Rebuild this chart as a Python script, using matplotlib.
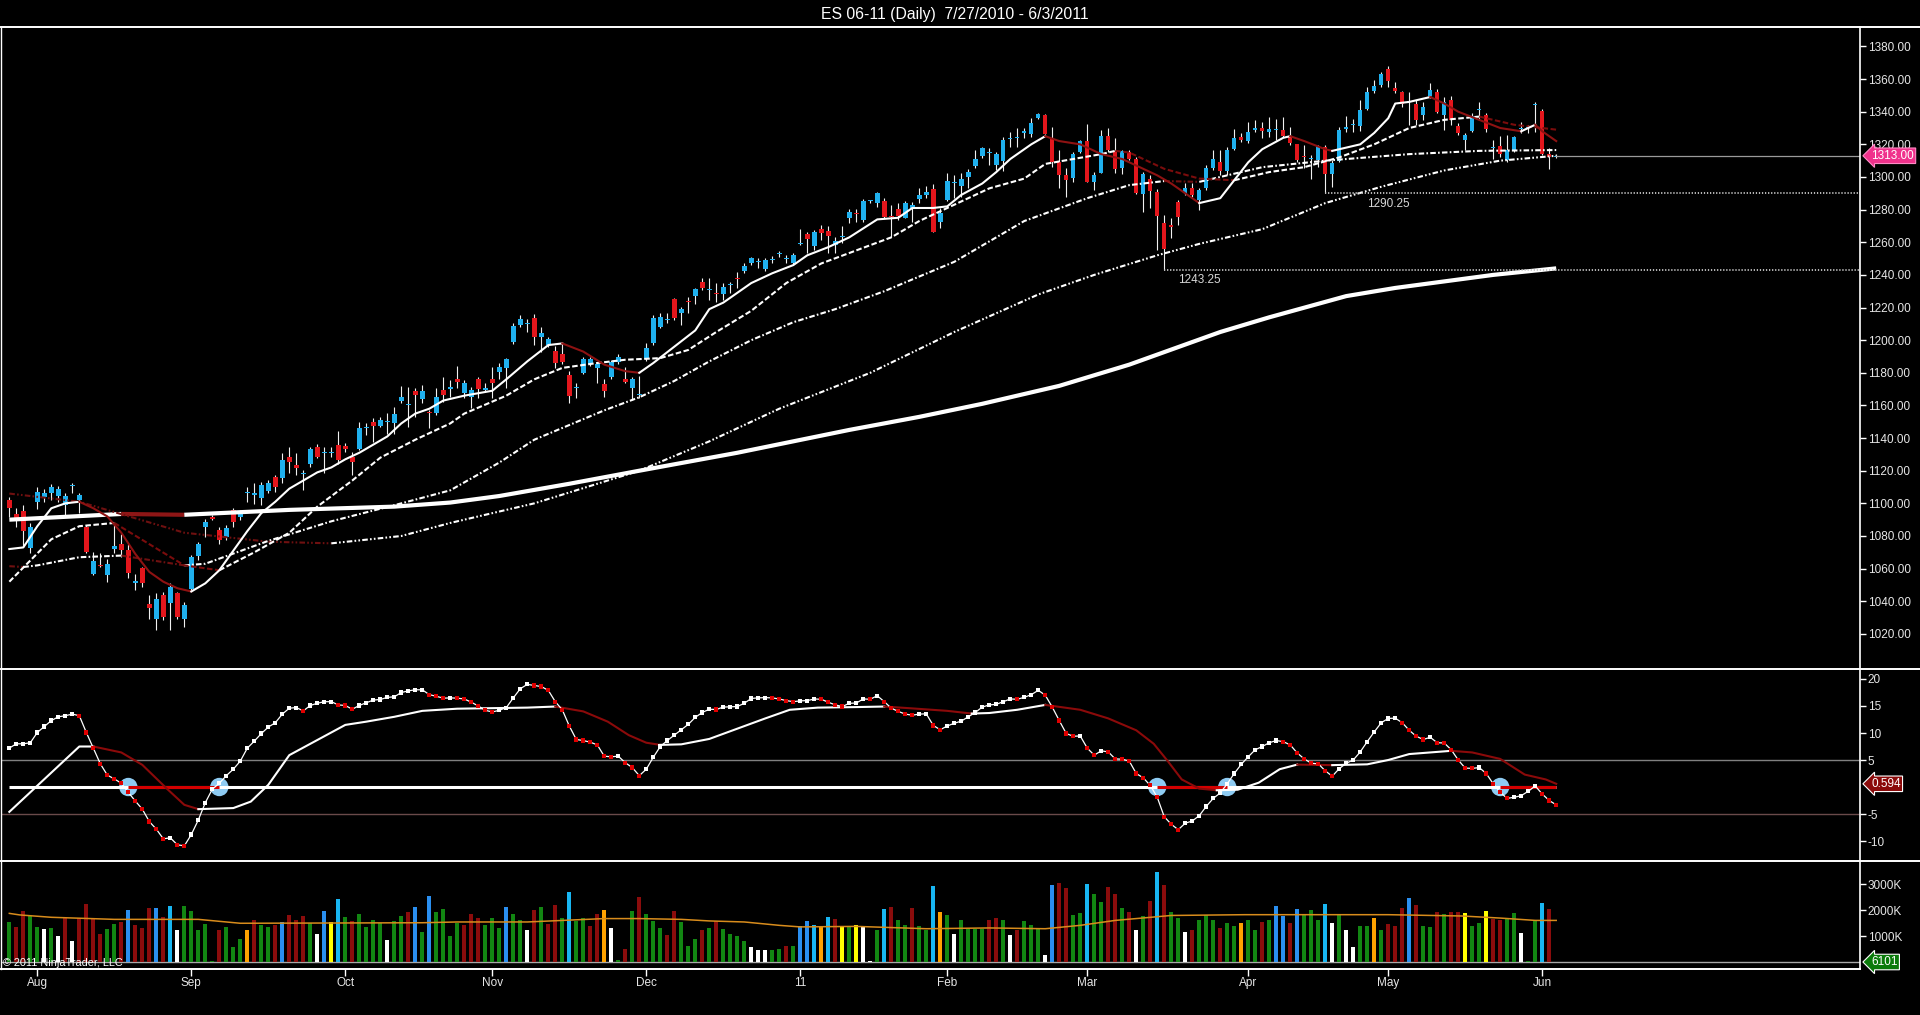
import matplotlib
matplotlib.use('Agg')
import matplotlib.pyplot as plt
import numpy as np
from matplotlib.lines import Line2D

plt.rcParams['font.family'] = ['Liberation Sans', 'DejaVu Sans']
plt.rcParams['lines.scale_dashes'] = False

# ---------------- DATA ----------------
title = "ES 06-11 (Daily)  7/27/2010 - 6/3/2011"
month_labels = ['Aug', 'Sep', 'Oct', 'Nov', 'Dec', '11', 'Feb', 'Mar', 'Apr', 'May', 'Jun']
month_bars = [4, 26, 48, 69, 91, 113, 134, 154, 177, 197, 219]

opens = [1102.0,1093.4,1095.2,1072.8,1101.0,1104.0,1106.5,1104.4,1098.9,1110.4,1102.0,1085.6,1057.0,1062.5,1056.0,1072.1,1074.8,1071.7,1051.5,1060.1,
         1038.6,1029.4,1043.7,1039.1,1045.2,1029.4,1047.8,1067.7,1085.6,1091.4,1083.6,1079.1,1095.8,1091.8,1106.1,1105.0,1103.0,1107.7,1115.9,1115.3,
         1128.5,1123.4,1117.7,1124.0,1134.7,1131.0,1130.6,1135.7,1135.1,1128.5,1133.6,1145.9,1150.0,1147.3,1150.0,1149.4,1162.9,1160.0,1169.0,1164.2,
         1156.1,1155.1,1169.4,1169.8,1176.5,1167.8,1165.3,1175.9,1169.4,1176.5,1180.6,1182.7,1199.0,1209.2,1210.1,1213.3,1202.1,1196.9,1193.3,1191.5,
         1178.6,1170.8,1179.6,1185.3,1183.1,1172.9,1177.6,1186.8,1176.5,1170.8,1166.3,1188.4,1198.0,1207.8,1212.3,1225.0,1216.4,1224.2,1227.2,1235.4,
         1230.6,1229.1,1228.0,1233.6,1238.0,1242.5,1247.4,1248.0,1243.6,1249.4,1253.1,1250.0,1247.4,1258.9,1265.0,1257.7,1267.9,1267.1,1258.3,1263.2,
         1274.6,1278.2,1273.6,1285.0,1283.8,1285.2,1276.0,1280.1,1275.0,1280.7,1286.5,1288.9,1292.4,1272.6,1285.8,1296.5,1294.6,1300.1,1306.9,1313.0,
         1314.5,1307.3,1309.7,1323.0,1323.6,1326.7,1326.1,1335.9,1337.9,1323.6,1309.3,1301.2,1299.1,1315.5,1322.0,1297.1,1302.6,1325.1,1315.9,1305.3,
         1315.1,1311.0,1289.3,1298.7,1290.9,1272.0,1270.5,1284.8,1289.9,1293.0,1285.8,1293.0,1305.7,1309.3,1303.6,1317.1,1324.7,1322.0,1328.7,1330.2,
         1327.7,1328.7,1328.7,1325.0,1320.1,1312.5,1311.0,1310.7,1318.5,1301.7,1309.9,1329.7,1331.6,1331.1,1341.4,1352.8,1356.3,1365.9,1354.8,1352.2,
         1346.1,1344.6,1337.9,1349.5,1352.2,1337.9,1347.1,1331.1,1322.6,1328.3,1341.3,1337.9,1318.0,1318.9,1310.3,1316.0,1329.5,1330.0,1344.0,1340.3,
         1314.0,1312.5]
highs = [1104.0,1096.9,1098.9,1088.1,1110.2,1109.1,1111.8,1110.6,1106.1,1112.6,1106.1,1086.7,1070.3,1069.3,1066.2,1087.7,1081.5,1075.4,1057.0,1061.1,
         1043.7,1044.8,1045.8,1050.9,1045.8,1039.7,1068.3,1076.4,1090.7,1092.8,1085.6,1086.7,1096.9,1095.8,1110.2,1112.6,1113.2,1114.2,1117.3,1130.6,
         1134.7,1130.6,1120.4,1134.7,1136.3,1134.7,1134.7,1144.3,1136.7,1131.6,1150.0,1149.0,1152.0,1153.1,1155.5,1159.2,1171.8,1171.4,1170.4,1172.5,
         1157.1,1170.4,1177.6,1175.5,1184.1,1175.5,1171.4,1177.6,1173.5,1183.3,1185.8,1188.8,1210.3,1215.4,1212.7,1216.0,1207.8,1202.1,1196.4,1197.4,
         1181.3,1173.5,1189.8,1189.4,1186.8,1176.0,1187.8,1191.3,1183.7,1177.6,1178.0,1198.4,1215.4,1216.4,1216.4,1225.6,1220.5,1226.6,1232.1,1238.3,
         1237.8,1234.8,1234.8,1235.8,1241.9,1247.0,1251.1,1250.1,1250.1,1251.5,1254.8,1252.1,1253.2,1268.1,1266.4,1267.5,1270.5,1269.9,1263.4,1269.9,
         1280.1,1280.1,1286.5,1286.0,1290.9,1286.9,1282.8,1283.8,1285.2,1284.8,1293.0,1294.6,1295.4,1280.7,1302.2,1301.2,1302.2,1304.8,1316.5,1318.5,
         1317.5,1315.5,1324.7,1327.3,1329.8,1330.2,1335.9,1339.0,1338.4,1330.8,1316.5,1305.3,1315.5,1322.6,1332.2,1303.2,1328.7,1330.2,1323.6,1316.5,
         1316.5,1312.4,1303.2,1301.2,1292.9,1276.6,1274.6,1285.8,1296.1,1296.1,1293.0,1307.3,1316.5,1316.5,1318.5,1329.4,1326.7,1333.9,1334.9,1333.9,
         1336.9,1335.8,1336.5,1330.7,1320.5,1319.5,1313.4,1319.5,1319.5,1310.3,1330.7,1337.3,1335.8,1347.1,1355.3,1359.3,1364.4,1367.9,1358.3,1352.8,
         1352.2,1347.1,1346.1,1357.3,1354.2,1349.1,1349.5,1332.8,1326.7,1338.9,1346.1,1338.9,1322.6,1325.0,1325.6,1325.0,1333.8,1331.8,1346.1,1341.4,
         1317.5,1314.0]
lows = [1091.8,1085.6,1073.4,1069.7,1096.3,1101.0,1102.0,1101.0,1091.8,1106.1,1093.8,1069.3,1056.0,1061.1,1051.9,1069.3,1067.2,1054.0,1046.8,1048.9,
        1029.4,1022.3,1028.4,1022.3,1029.4,1024.3,1046.8,1065.2,1079.5,1089.7,1075.4,1077.5,1085.6,1089.7,1101.0,1099.9,1098.9,1106.1,1107.1,1112.2,
        1118.3,1117.3,1108.1,1122.4,1127.5,1118.3,1128.5,1124.4,1131.6,1117.3,1132.6,1141.8,1137.7,1146.9,1142.8,1142.8,1161.2,1146.9,1153.1,1161.2,
        1145.9,1154.1,1162.0,1165.3,1170.4,1164.3,1158.2,1164.3,1168.4,1164.3,1176.5,1170.4,1197.6,1208.2,1205.2,1197.0,1192.9,1195.9,1182.7,1185.7,
        1161.8,1164.3,1179.2,1184.1,1173.5,1165.3,1176.5,1185.7,1173.5,1163.3,1164.3,1187.4,1197.0,1207.2,1210.3,1212.3,1209.2,1216.8,1222.1,1230.7,
        1224.6,1223.5,1224.6,1228.7,1231.7,1241.3,1246.0,1244.0,1242.5,1247.0,1250.7,1247.0,1246.0,1258.3,1253.6,1255.2,1261.3,1253.2,1253.6,1259.3,
        1271.6,1272.6,1272.6,1284.0,1281.8,1274.6,1263.4,1273.6,1274.6,1272.6,1283.8,1286.9,1266.0,1268.9,1285.2,1286.9,1287.9,1293.4,1305.3,1311.4,
        1307.3,1304.2,1303.6,1318.5,1318.5,1323.6,1324.7,1335.5,1326.1,1306.3,1293.0,1287.9,1297.1,1314.5,1296.7,1292.0,1302.2,1315.1,1302.2,1301.6,
        1310.4,1289.3,1278.7,1280.7,1255.2,1243.25,1262.4,1270.5,1288.9,1287.9,1279.7,1292.0,1304.2,1301.2,1301.2,1316.5,1321.6,1320.6,1327.7,1323.6,
        1324.6,1322.6,1324.2,1319.5,1309.3,1305.2,1298.5,1306.2,1290.25,1294.0,1309.3,1327.7,1327.7,1328.3,1341.0,1351.2,1355.3,1355.3,1351.2,1343.0,
        1331.8,1331.8,1334.8,1348.1,1338.9,1328.7,1331.8,1325.6,1316.4,1327.7,1334.8,1327.7,1311.3,1312.4,1309.3,1315.4,1326.7,1327.0,1327.7,1313.4,
        1304.6,1311.5]
closes = [1096.9,1090.1,1083.2,1085.6,1107.1,1106.1,1110.2,1109.1,1104.4,1111.2,1105.0,1070.3,1064.8,1061.5,1063.1,1073.8,1071.7,1057.6,1052.3,1050.9,
          1035.6,1041.7,1030.5,1048.9,1030.5,1037.6,1067.2,1075.0,1088.7,1090.3,1077.5,1084.6,1088.7,1094.2,1106.5,1106.1,1111.2,1112.2,1110.2,1126.5,
          1125.5,1121.4,1117.9,1133.6,1128.5,1131.6,1131.2,1126.5,1133.6,1125.5,1145.9,1146.3,1147.3,1151.0,1150.4,1154.7,1164.9,1160.2,1166.1,1168.7,
          1155.1,1165.1,1166.3,1171.4,1174.5,1173.5,1169.4,1169.8,1170.4,1173.9,1183.7,1188.2,1208.8,1212.9,1210.7,1202.1,1204.5,1200.7,1186.2,1186.8,
          1165.7,1171.2,1188.4,1188.2,1185.7,1169.0,1186.8,1189.8,1174.5,1176.5,1167.1,1194.9,1213.3,1213.9,1212.9,1213.7,1218.8,1223.5,1231.1,1232.1,
          1230.9,1228.2,1232.7,1233.8,1237.2,1245.4,1250.1,1248.2,1249.1,1249.6,1253.3,1250.2,1252.1,1259.7,1261.7,1266.4,1265.8,1263.8,1260.9,1263.4,
          1278.7,1277.2,1285.2,1285.3,1289.9,1275.6,1275.6,1276.2,1283.8,1282.8,1288.9,1290.5,1266.4,1277.7,1297.5,1296.9,1298.7,1303.2,1310.8,1317.5,
          1314.8,1313.8,1322.6,1323.4,1324.0,1328.1,1332.8,1338.4,1326.5,1309.3,1301.2,1298.1,1313.8,1322.0,1297.1,1301.2,1325.1,1316.5,1304.8,1315.9,
          1311.0,1289.9,1301.6,1291.4,1276.2,1255.8,1269.5,1275.6,1293.0,1288.9,1292.0,1305.7,1311.0,1303.6,1316.5,1323.6,1322.6,1327.3,1329.8,1328.1,
          1329.1,1328.9,1325.0,1320.9,1310.3,1312.3,1311.6,1318.9,1301.7,1308.7,1328.7,1330.7,1331.9,1340.9,1352.2,1355.7,1363.4,1358.9,1352.8,1345.0,
          1346.5,1335.2,1342.6,1353.6,1339.9,1346.1,1335.2,1326.7,1325.6,1337.3,1341.6,1329.7,1318.2,1314.0,1316.4,1324.2,1330.1,1330.3,1344.8,1314.0,
          1312.5,1313.0]

# moving-average lines (bar index, price)
ma_fast_x = [0,2,4,6,8,10,12,14,16,18,20,22,24,26,28,30,32,34,36,38,40,42,44,46,48,50,52,54,56,58,60,62,65,69,71,74,77,79,82,85,88,90,92,95,98,100,
             102,106,109,112,114,117,120,124,127,129,132,134,136,139,141,143,146,148,150,153,156,159,161,164,166,168,170,173,175,177,179,182,183,185,
             188,189,191,193,195,197,198,200,203,205,207,210,213,216,218,219,221]
ma_fast_y = [1072,1073,1086,1097,1100,1101,1097,1092,1082,1069,1058,1052,1048,1046,1051,1059,1071,1083,1094,1101,1109,1114,1119,1122,1127,1131,
             1136,1141,1149,1155,1158,1163,1166,1169,1176,1187,1197,1198,1193,1185,1181,1180,1186,1196,1206,1219,1223,1235,1241,1246,1252,1257,1263,
             1274,1275,1281,1281,1282,1289,1296,1303,1311,1320,1325,1322,1320,1314,1311,1307,1301,1296,1290,1284,1287,1298,1309,1317,1324,1325,1322,
             1317,1316,1318,1320,1327,1336,1345,1346,1349,1345,1340,1335,1330,1328,1332,1328,1322]
ma_20_x = [0,3,6,10,15,20,25,30,35,40,44,49,53,58,63,65,71,75,79,84,88,93,97,101,106,111,116,121,126,130,135,140,145,148,152,156,158,160,165,170,
           175,180,185,190,195,200,205,210,215,221]
ma_20_y = [1052,1065,1078,1086,1088,1075,1062,1059,1070,1082,1098,1114,1128,1139,1149,1155,1166,1176,1183,1186,1188,1189,1194,1205,1218,1235,1247,
           1255,1263,1273,1283,1293,1299,1308,1311,1314,1316,1315,1305,1299,1298,1303,1306,1312,1320,1330,1335,1337,1332,1329]
ma_50_x = [0,2,4,10,16,25,28,37,46,56,63,70,75,80,85,90,95,100,106,112,118,125,135,145,154,160,165,170,179,188,200,210,221]
ma_50_y = [1061.5,1061,1062,1067,1068,1062,1063,1077,1089,1100,1108,1125,1139,1148,1157,1165,1175,1187,1200,1211,1219,1230,1248,1273,1287,1295,
           1297.5,1297,1306,1310,1314,1316,1316.5]
ma_100_x = [0,10,25,37,46,56,63,75,90,100,110,123,135,147,155,164,170,179,188,196,205,213,221]
ma_100_y = [1106,1101,1082,1076.5,1075.5,1080,1088,1100,1120,1138,1158,1180,1205,1228,1240,1252,1259,1268,1284,1294,1304,1310,1313]
ma_200_x = [0,16,25,40,55,63,70,80,90,104,120,130,139,150,160,173,180,191,198,205,212,221]
ma_200_y = [1090,1093.5,1093,1096,1098,1100.5,1104.5,1112,1120,1131,1145,1153,1161,1172,1185,1205,1214,1227,1232,1236,1240,1244]

swing_low_1 = (165, 1243.25)
swing_low_2 = (188, 1290.25)
last_price = 1313.00

# oscillator
osc_fast = [7.2,8.0,8.0,8.2,10.1,11.2,12.3,13.0,13.2,13.5,13.2,10.1,7.2,4.3,2.2,1.5,0.7,-1.0,-2.6,-4.1,
            -6.4,-7.8,-9.6,-9.4,-10.7,-10.9,-8.8,-6.1,-2.9,-0.4,0.7,2.1,3.3,4.8,7.2,8.5,9.9,11.1,11.9,13.5,
            14.6,14.7,14.1,15.1,15.5,15.8,15.8,15.2,15.1,14.4,15.1,15.6,16.1,16.2,16.6,16.7,17.5,17.8,18.0,18.0,
            17.1,16.8,16.45,16.5,16.45,16.3,15.7,15.0,14.2,13.9,14.2,14.7,16.5,18.2,19.0,18.8,18.6,17.9,15.8,14.3,
            11.3,8.8,8.6,8.3,7.8,5.7,5.6,5.7,4.5,3.6,2.1,3.3,5.5,7.5,8.6,9.6,10.6,11.6,12.9,13.8,
            14.4,14.35,14.8,14.85,14.9,15.5,16.4,16.5,16.55,16.5,16.3,16.0,15.8,15.95,16.0,16.3,16.25,15.7,15.2,14.9,
            15.5,15.55,16.3,16.25,16.9,15.8,14.6,14.0,13.5,13.3,13.5,13.55,11.4,10.6,11.3,11.8,12.2,13.0,13.8,14.8,
            15.2,15.3,15.8,16.3,16.25,16.6,17.1,17.9,17.0,14.8,12.3,9.9,9.4,9.45,7.2,5.9,6.7,6.5,5.2,5.15,
            4.8,2.5,1.7,0.3,-1.9,-5.5,-6.9,-7.9,-6.7,-6.3,-5.3,-3.6,-2.1,-1.1,0.6,2.5,4.2,5.6,6.9,7.5,
            8.2,8.6,8.4,7.8,6.3,5.2,4.4,4.3,3.0,2.0,3.4,4.4,5.0,6.5,8.4,10.2,11.9,12.7,12.75,11.9,
            10.5,9.4,8.8,9.2,8.2,8.15,6.9,5.0,3.5,3.45,3.6,2.5,0.6,-1.0,-2.1,-1.9,-1.6,-0.8,0.2,-1.3,
            -2.5,-3.3]
osc_slow_x = [0,10,12,16,19,22.5,25,27,32,34.5,37,40,44,48,51,55,59,64,69,74,78,82,85.5,88.5,91,93,96,100,104,108,111.5,115.5,121,125,128.5,
              134,137.5,140,144,148,153,157,161,163.5,165.5,167.5,170,172.5,175.5,178.5,181.5,184,189,194,197,200,206,209,213,216.5,219.5,221]
osc_slow_y = [-4.6,7.5,7.5,6.4,4.1,-0.3,-3.3,-4.1,-3.9,-2.7,0.4,5.9,8.7,11.5,12.1,13.0,14.1,14.5,14.6,14.7,14.9,14.0,12.1,9.6,8.2,7.8,7.9,8.9,
              10.8,12.7,14.3,14.7,14.8,14.9,14.6,14.1,13.6,13.7,14.3,15.2,14.3,12.7,10.5,8.0,4.8,1.4,-0.3,-0.6,-0.5,0.8,3.3,4.15,4.05,4.2,5.0,6.1,
              6.7,6.4,5.2,2.3,1.4,0.594]
cross_bars = [17, 30, 164, 174, 213]
zero_red_spans = [(17, 30), (164, 174), (213, 221)]
osc_levels = [5, -5]

# volume (millions of contracts) and colour code per bar
volume = [1.55,1.36,1.96,1.78,1.36,1.27,1.31,1.00,1.69,0.81,1.69,2.22,1.64,1.08,1.27,1.46,1.55,2.00,1.42,1.32,
          2.08,2.08,1.74,2.15,1.23,2.15,1.96,1.23,1.46,0.05,1.23,1.35,0.56,0.88,1.23,1.62,1.42,1.36,1.42,1.54,
          1.81,1.62,1.77,1.49,1.08,1.96,1.54,2.42,1.73,1.58,1.85,1.36,1.62,1.49,0.85,1.58,1.78,1.94,2.12,1.15,
          2.54,1.92,2.05,0.99,1.51,1.44,1.85,1.71,1.44,1.71,1.32,2.13,1.85,1.63,1.24,2.01,2.13,1.45,2.21,1.71,
          2.71,1.58,1.71,1.37,1.83,2.01,1.32,0.08,0.51,1.96,2.51,1.85,1.59,1.32,1.03,1.96,1.54,0.60,0.90,1.24,
          1.29,1.58,1.28,1.09,0.99,0.79,0.56,0.47,0.47,0.47,0.51,0.60,0.60,1.38,1.59,1.44,1.35,1.74,1.67,1.38,
          1.33,1.42,1.33,0.05,1.24,2.05,2.13,1.63,1.44,2.09,1.40,1.23,2.92,1.94,1.82,1.09,1.63,1.31,1.28,1.28,
          1.60,1.71,1.63,1.03,1.22,1.58,1.44,1.31,0.26,2.97,3.05,2.86,1.79,1.90,3.01,2.63,2.32,2.90,2.63,2.09,
          1.94,1.24,1.78,2.33,3.47,2.97,1.94,1.71,1.17,1.24,1.63,1.79,1.63,1.29,1.51,1.40,1.51,1.63,1.24,1.55,
          1.63,2.17,1.78,1.51,2.05,1.86,2.01,1.63,2.24,1.51,1.82,1.24,0.59,1.37,1.37,1.71,1.24,1.47,1.40,2.09,
          2.47,2.21,1.37,1.33,1.94,1.86,1.94,1.94,1.90,1.37,1.51,1.97,1.64,1.60,1.64,1.90,1.13,0.05,1.58,2.28,
          2.05,0.006101]
volume_codes = ("grrggwgwrwrrrrggrbrr" "rbrcwgggggrgggorggrb" "rrrgwbycgrggggwggrbg" "bggggrrrgggbggwrgrrg"
                "cggrrowgrgrgggrrgggr" "grggggwwwggrgbbcocry" "gywwgcrggrggcogwgggg" "rrgwrgggwbrrggcggrrg"
                "rwgrcrggwrgggrggoggr" "gbbrbgggcwgwwggogrrr" "brggrgrryggyrrggwggc" "rg")
vol_sma_x = [0,1.5,6,15,27,33,59,64,74,85,90,96,100,105,110,113,121,131,140,148,153,158,163.5,166,176.5,187,197,207.5,213,218,221]
vol_sma_y = [1.87,1.81,1.72,1.64,1.64,1.49,1.51,1.54,1.54,1.67,1.67,1.64,1.58,1.54,1.41,1.35,1.37,1.28,1.31,1.28,1.41,1.60,1.73,1.79,1.82,
             1.82,1.82,1.77,1.69,1.60,1.60]

# ---------------- FIGURE ----------------
W, H = 1920, 1015
fig = plt.figure(figsize=(W / 100, H / 100), dpi=100, facecolor='black')


def axrect(top, bottom):
    return [1 / W, 1 - bottom / H, (1860 - 1) / W, (bottom - top) / H]


ax_p = fig.add_axes(axrect(27, 669))
ax_o = fig.add_axes(axrect(669, 861), sharex=ax_p)
ax_v = fig.add_axes(axrect(861, 969), sharex=ax_p)

TXT = '#e6e6e6'
for ax in (ax_p, ax_o, ax_v):
    ax.set_facecolor('black')
    for s in ax.spines.values():
        s.set_visible(False)
    ax.yaxis.tick_right()
    ax.tick_params(axis='y', direction='out', length=4, width=1, colors='white',
                   labelcolor=TXT, labelsize=8.5, pad=1.5)
    ax.tick_params(axis='x', bottom=False, labelbottom=False)

ax_p.set_xlim(-1.19, 264.4)
ax_p.set_ylim(998.5, 1391.9)
ax_o.set_ylim(-13.70, 21.85)
ax_v.set_ylim(-0.269, 3.885)

n = len(closes)
x = np.arange(n)
O = np.array(opens); Hh = np.array(highs); Lw = np.array(lows); C = np.array(closes)
UP = '#1fb0ee'
DN = '#e3161c'
WHITE = '#ffffff'


def colored_runs(ax, xs, ys, upc, dnc, **kw):
    xs = list(xs); ys = list(ys)
    cols = [upc if ys[i + 1] >= ys[i] else dnc for i in range(len(ys) - 1)]
    start = 0
    for i in range(1, len(cols) + 1):
        if i == len(cols) or cols[i] != cols[start]:
            ax.plot(xs[start:i + 1], ys[start:i + 1], color=cols[start], **kw)
            start = i


# ---- price panel ----
ax_p.vlines(x, Lw, Hh, color='#f0f0f0', lw=0.8, zorder=2)
bot = np.minimum(O, C)
hgt = np.maximum(np.abs(C - O), 0.6)
ccol = [UP if c >= o else DN for o, c in zip(O, C)]
ax_p.bar(x, hgt, bottom=bot, width=0.64, color=ccol, edgecolor='none', zorder=3)

colored_runs(ax_p, ma_200_x, ma_200_y, WHITE, '#8e1616', lw=3.0, zorder=4, solid_capstyle='butt')
colored_runs(ax_p, ma_100_x, ma_100_y, WHITE, '#6e1010', lw=1.5, zorder=4, dashes=(4, 1.6, 1.2, 1.6, 1.2, 1.6))
colored_runs(ax_p, ma_50_x, ma_50_y, WHITE, '#6e1010', lw=1.5, zorder=4, dashes=(4, 1.6, 1.2, 1.6))
colored_runs(ax_p, ma_20_x, ma_20_y, WHITE, '#7a0c0c', lw=1.5, zorder=4, dashes=(4, 1.8))
colored_runs(ax_p, ma_fast_x, ma_fast_y, WHITE, '#8e1212', lw=1.5, zorder=5)

for (bx, lvl) in (swing_low_1, swing_low_2):
    ax_p.plot([bx, 264.4], [lvl, lvl], color='#c8c8c8', lw=1.3, dashes=(0.9, 1.3), zorder=4)
ax_p.text(170, 1236.8, f'{swing_low_1[1]:.2f}', color='#d8d8d8', fontsize=8.5, ha='center', va='center')
ax_p.text(197, 1283.7, f'{swing_low_2[1]:.2f}', color='#d8d8d8', fontsize=8.5, ha='center', va='center')
ax_p.plot([n - 1, 264.4], [last_price, last_price], color='#9a9a9a', lw=0.9, zorder=4)

ax_p.set_yticks(np.arange(1020, 1381, 20))
ax_p.set_yticklabels([f'{v:.2f}' for v in np.arange(1020, 1381, 20)])
ax_p.text(1.006, last_price, f'{last_price:.2f}', transform=ax_p.get_yaxis_transform(),
          color='white', fontsize=8.5, ha='left', va='center', clip_on=False, zorder=10,
          bbox=dict(boxstyle='larrow,pad=0.15', fc='#f0328c', ec='#ff8cc6', lw=0.8))

# ---- oscillator panel ----
for lv, col in zip(osc_levels, ['#808080', '#6a4a4a']):
    ax_o.axhline(lv, color=col, lw=1, zorder=1)
ax_o.scatter(cross_bars, [0] * len(cross_bars), s=175, color='#8ecbf2', zorder=2, edgecolors='none')
ax_o.plot([0, n - 1], [0, 0], color='white', lw=2.2, zorder=3, solid_capstyle='butt')
for a, b in zero_red_spans:
    ax_o.plot([a, b], [0, 0], color='#d40000', lw=2.2, zorder=3, solid_capstyle='butt')
colored_runs(ax_o, osc_slow_x, osc_slow_y, WHITE, '#8b0a0a', lw=1.5, zorder=4)
ax_o.plot(x, osc_fast, color='white', lw=0.9, zorder=5)
fcols = [WHITE] + [WHITE if osc_fast[i] >= osc_fast[i - 1] else '#e00000' for i in range(1, len(osc_fast))]
ax_o.scatter(x, osc_fast, marker='s', s=9, c=fcols, edgecolors='none', zorder=6)
ax_o.set_yticks([20, 15, 10, 5, -5, -10])
ax_o.set_yticklabels(['20', '15', '10', '5', '-5', '-10'])
ax_o.text(1.006, osc_slow_y[-1], f'{osc_slow_y[-1]:.3f}', transform=ax_o.get_yaxis_transform(),
          color='white', fontsize=8.5, ha='left', va='center', clip_on=False, zorder=10,
          bbox=dict(boxstyle='larrow,pad=0.15', fc='#8b0a0a', ec='white', lw=0.8))

# ---- volume panel ----
cmap = {'g': '#128612', 'r': '#8b0c0c', 'b': '#2a8ff0', 'c': '#18b6f2', 'w': '#ffffff', 'o': '#ffa200', 'y': '#ffff00'}
vcols = [cmap[c] for c in volume_codes[:n]]
ax_v.axhline(volume[-1], color='#a8a8a8', lw=1, zorder=1)
ax_v.bar(x, volume, width=0.6, color=vcols, edgecolor='none', zorder=3)
ax_v.plot(vol_sma_x, vol_sma_y, color='#d88c1c', lw=1.1, zorder=4)
ax_v.set_yticks([1, 2, 3])
ax_v.set_yticklabels(['1000K', '2000K', '3000K'])
ax_v.text(1.006, 0, f'{round(volume[-1] * 1e6):d}', transform=ax_v.get_yaxis_transform(),
          color='white', fontsize=8.5, ha='left', va='center', clip_on=False, zorder=10,
          bbox=dict(boxstyle='larrow,pad=0.15', fc='#0a7a0a', ec='white', lw=0.8))
ax_v.tick_params(axis='x', bottom=True, labelbottom=True, direction='out', length=5, width=1,
                 colors='white', labelcolor=TXT, labelsize=8.5, pad=1)
ax_v.set_xticks(month_bars)
ax_v.set_xticklabels(month_labels)

# ---- frame lines ----
def fl(x0, y0, x1, y1, lw=1.4):
    fig.add_artist(Line2D([x0 / W, x1 / W], [1 - y0 / H, 1 - y1 / H], transform=fig.transFigure,
                          color='white', lw=lw))


fl(1, 27, 1920, 27)
fl(1, 669, 1920, 669)
fl(1, 861, 1920, 861)
fl(1, 969, 1860, 969)
fl(1, 27, 1, 969, lw=1.0)
fl(1860, 27, 1860, 969, lw=1.2)

fig.text(955 / W, 1 - 14 / H, title, color='white', fontsize=11.3, ha='center', va='center')
fig.text(3 / W, 1 - 963 / H, '© 2011 NinjaTrader, LLC', color='white', fontsize=7.8, ha='left', va='center')

fig.savefig('out.png', dpi=100, facecolor='black')
